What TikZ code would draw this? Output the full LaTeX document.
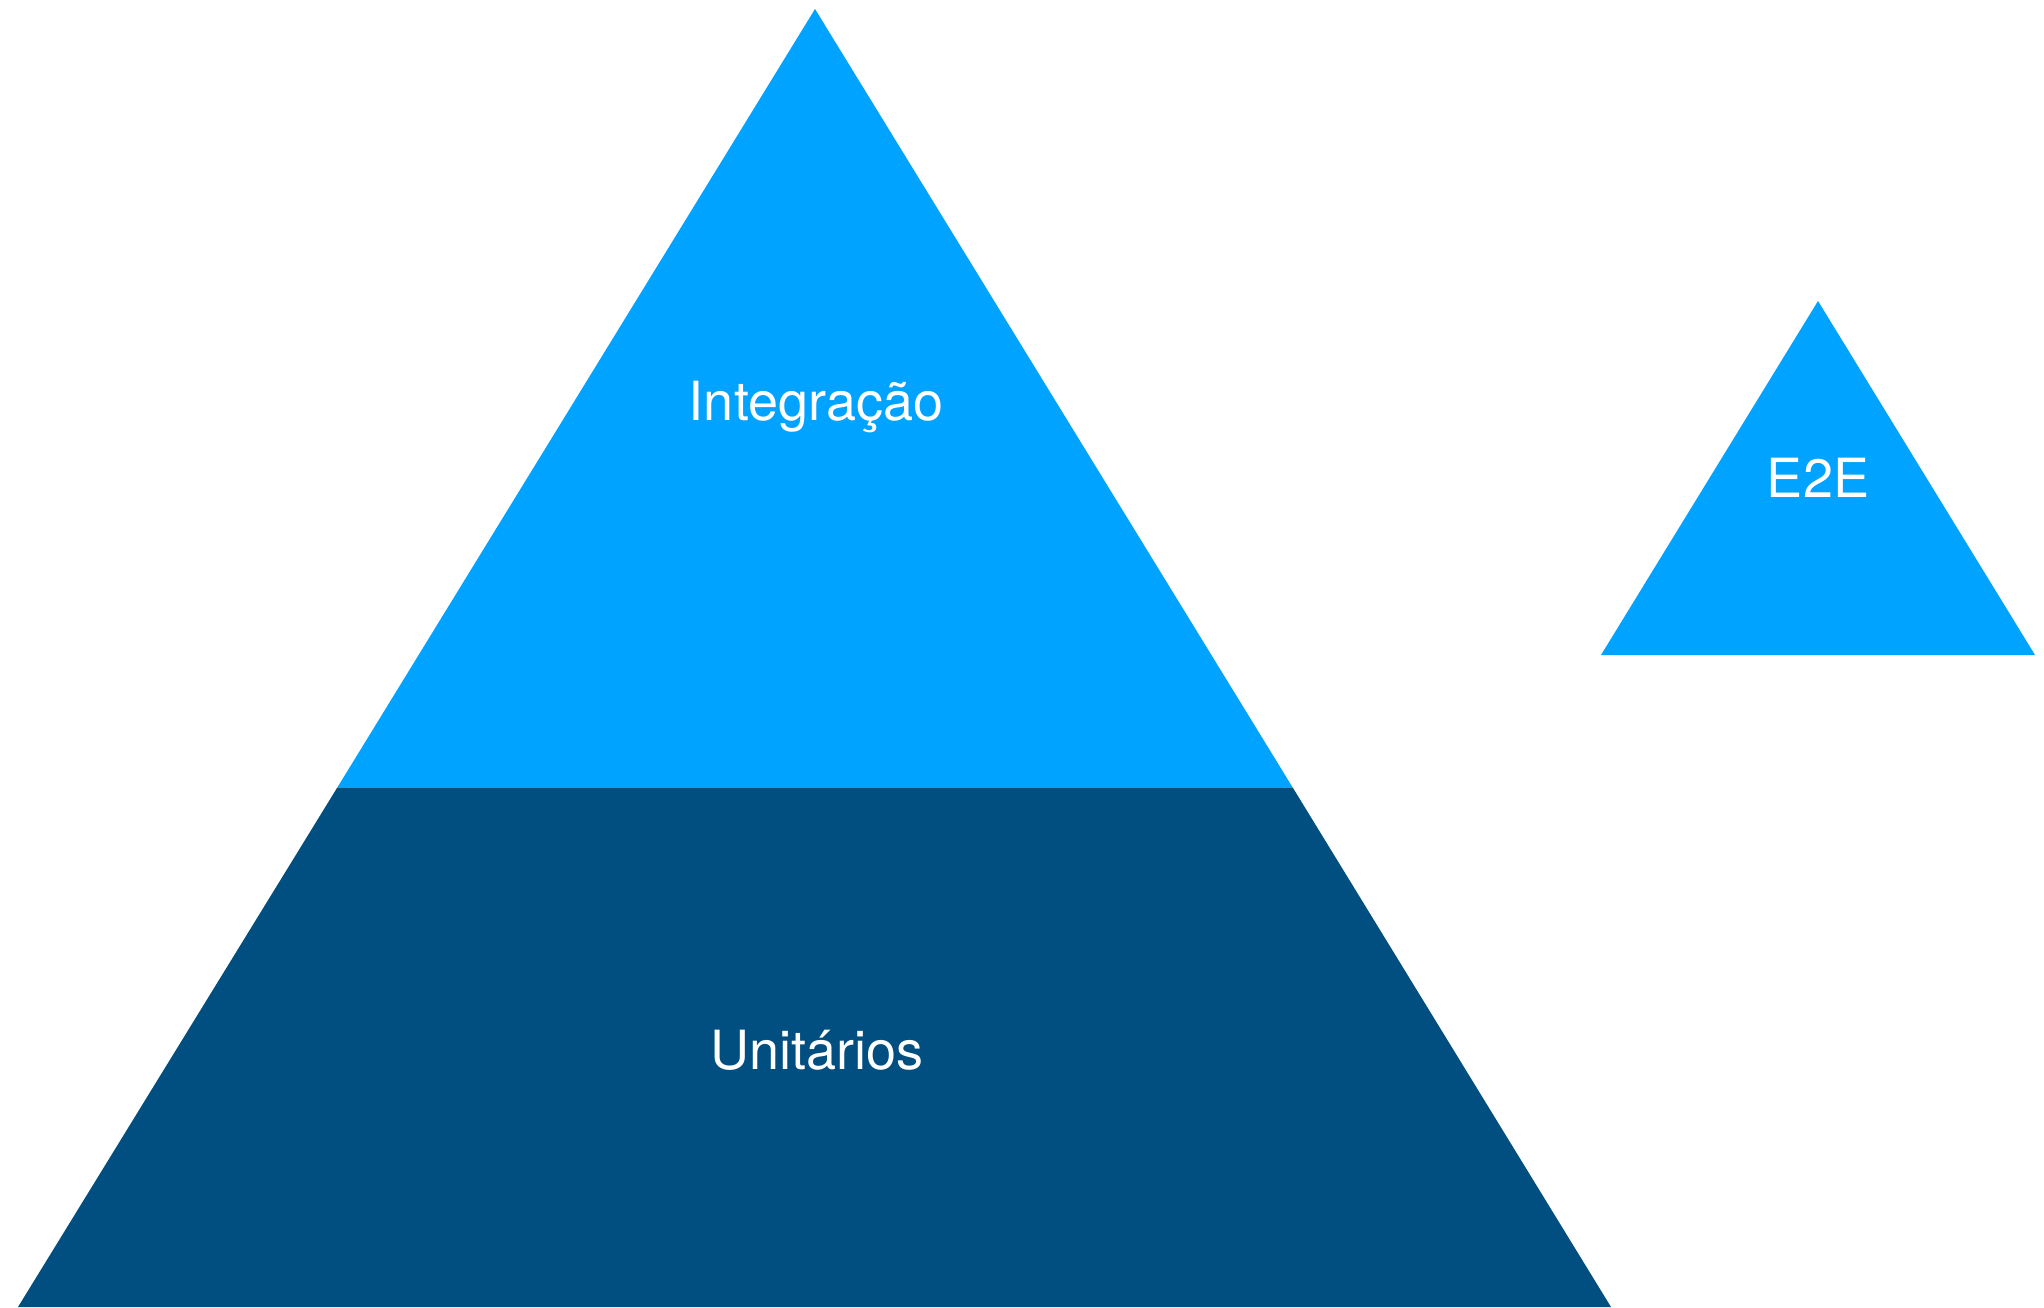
\documentclass[tikz,border=0pt]{standalone}
\usepackage{fontspec}
\setmainfont{TeX Gyre Heros}
\usepackage{xcolor}
\usepackage{tikz}

\definecolor{toplayer}{RGB}{0,163,255}
\definecolor{baselayer}{RGB}{0,79,128}

\tikzset{
    tiertext/.style={text=white, inner sep=0pt, anchor=base,
                     font=\fontsize{27}{32}\selectfont}
}

\begin{document}
\begin{tikzpicture}[x=0.5pt,y=-0.5pt]
    \useasboundingbox (0,0) rectangle (2044,1307);

    % 大金字塔的顶点
    \coordinate (apex)  at (815,9);
    \coordinate (baseL) at (18,1307);
    \coordinate (baseR) at (1611,1307);
    \coordinate (midL)  at (337,788);
    \coordinate (midR)  at (1293,788);

    % 上层与下层
    \fill[toplayer]  (apex) -- (midR) -- (midL) -- cycle;
    \fill[baselayer] (midL) -- (midR) -- (baseR) -- (baseL) -- cycle;

    % 右边的小三角形
    \coordinate (e2eTop) at (1818,301);
    \coordinate (e2eL)   at (1601,655);
    \coordinate (e2eR)   at (2035,655);
    \fill[toplayer] (e2eTop) -- (e2eR) -- (e2eL) -- cycle;

    % 文字
    \node[tiertext] (integ) at (816,420)  {Integração};
    \node[tiertext] (unit)  at (817,1069) {Unitários};
    \node[tiertext] (e2e)   at (1818,497) {E2E};
\end{tikzpicture}
\end{document}
